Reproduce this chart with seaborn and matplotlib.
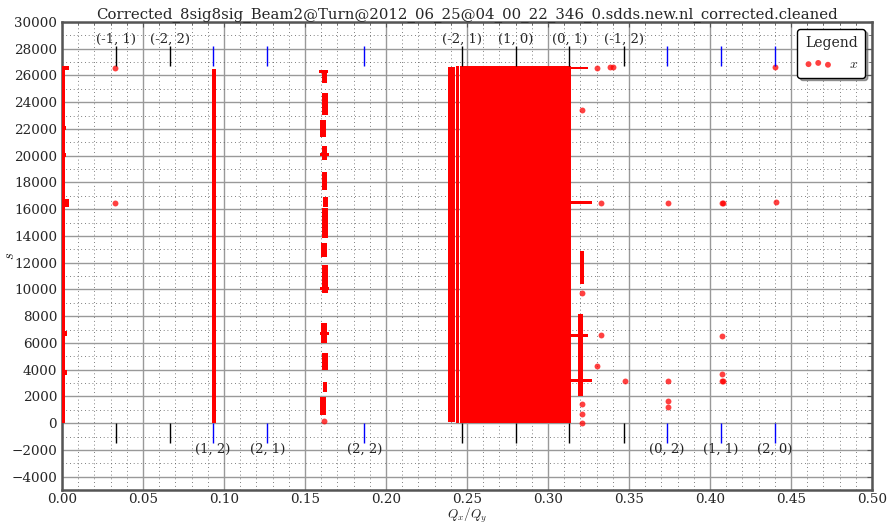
import matplotlib
matplotlib.use("Agg")
import matplotlib.pyplot as plt
from matplotlib.ticker import MultipleLocator, FormatStrFormatter
import numpy as np
import pandas as pd
import seaborn as sns

# ── Data ───────────────────────────────────────────────────────────────────
TITLE = "Corrected_8sig8sig_Beam2@Turn@2012_06_25@04_00_22_346_0.sdds.new.nl_corrected.cleaned"

band_q_lo = [0.0000, 0.0000, 0.0000, 0.0000, 0.0000, 0.0000, 0.0000,
             0.0925,
             0.1585, 0.1605, 0.1605, 0.1595, 0.1590, 0.1605, 0.1605, 0.1610,
             0.1605, 0.1600, 0.1605, 0.1590, 0.1600, 0.1595, 0.1605, 0.1610,
             0.1595,
             0.2382, 0.2430, 0.2456, 0.2494,
             0.3140, 0.3140, 0.3140, 0.3140, 0.3185, 0.3195]
band_q_hi = [0.0020, 0.0045, 0.0025, 0.0025, 0.0045, 0.0032, 0.0028,
             0.0952,
             0.1645, 0.1635, 0.1640, 0.1630, 0.1650, 0.1635, 0.1635, 0.1640,
             0.1640, 0.1635, 0.1640, 0.1650, 0.1635, 0.1650, 0.1640, 0.1635,
             0.1630,
             0.2425, 0.2450, 0.2494, 0.3140,
             0.3250, 0.3270, 0.3250, 0.3270, 0.3215, 0.3220]
band_s_lo = [0, 26400, 21900, 19900, 16200, 6500, 3600,
             0,
             26150, 25400, 23050, 21400, 19950, 19650, 17450, 16150,
             13850, 12400, 9700, 9950, 6000, 6600, 3950, 2300,
             600,
             100, 0, 0, 0,
             26450, 16400, 6480, 3100, 2000, 10400]
band_s_hi = [26700, 26700, 22200, 20200, 16800, 6900, 3950,
             26500,
             26400, 26300, 24700, 22700, 20200, 20700, 18800, 16900,
             16100, 13500, 11850, 10200, 7500, 6800, 5250, 3100,
             1950,
             26600, 26700, 26700, 26700,
             26650, 16650, 6700, 3330, 8200, 12900]

# isolated particles
point_q = [0.0330, 0.0330, 0.1620,
           0.3208, 0.3208, 0.3208, 0.3208, 0.3208,
           0.3300, 0.3383, 0.3403, 0.3330,
           0.3330, 0.3300, 0.3475,
           0.3743, 0.3743, 0.3743, 0.3743,
           0.4072, 0.4080, 0.4072, 0.4072, 0.4072, 0.4080,
           0.4401, 0.4407]
point_s = [26550, 16470, 200,
           23430, 9700, 1400, 700, 0,
           26550, 26610, 26610, 16490,
           6580, 4290, 3170,
           16490, 3170, 1650, 1220,
           16490, 16450, 6530, 3670, 3170, 3130,
           26600, 16530]

# resonance lines (m, n)
res_label = ["(-1, 1)", "(-2, 2)", "(-2, 1)", "(1, 0)", "(0, 1)", "(-1, 2)",
             "(1, 2)", "(2, 1)", "(2, 2)", "(0, 2)", "(1, 1)", "(2, 0)"]
res_q = [0.0333, 0.0667, 0.2467, 0.2800, 0.3133, 0.3467,
         0.0933, 0.1267, 0.1867, 0.3733, 0.4067, 0.4400]
res_kind = ["diff"] * 6 + ["sum"] * 6

# ── Style ──────────────────────────────────────────────────────────────────
sns.set_style("white")
plt.rcParams["font.family"] = ["DejaVu Serif"]
plt.rcParams["mathtext.fontset"] = "cm"

fig = plt.figure(figsize=(8.92, 5.23), dpi=100)
ax = fig.add_axes([0.0695, 0.063, 0.908, 0.895])

# ── Marks ──────────────────────────────────────────────────────────────────
bands = pd.DataFrame({"q_lo": band_q_lo, "q_hi": band_q_hi,
                      "s_lo": band_s_lo, "s_hi": band_s_hi})
ax.bar(bands.q_lo, bands.s_hi - bands.s_lo, width=bands.q_hi - bands.q_lo,
       bottom=bands.s_lo, align="edge", color="red", linewidth=0, zorder=3)

pts = pd.DataFrame({"q": point_q, "s": point_s})
sns.scatterplot(data=pts, x="q", y="s", ax=ax, color="red", s=18,
                alpha=0.75, linewidth=0, label="$x$", zorder=4)

res = pd.DataFrame({"q": res_q, "label": res_label, "kind": res_kind})
line_col = {"diff": "black", "sum": "blue"}
for _, r in res.iterrows():
    c = line_col[r.kind]
    ax.vlines(r.q, 26700, 28200, color=c, lw=1.0, zorder=5)
    ax.vlines(r.q, -1500, 0, color=c, lw=1.0, zorder=5)
    if r.kind == "diff":
        ax.text(r.q, 28700, r.label, ha="center", va="center", fontsize=9.5)
    else:
        ax.text(r.q, -1950, r.label, ha="center", va="center", fontsize=9.5)

# ── Axes ───────────────────────────────────────────────────────────────────
ax.set_xlim(0, 0.5)
ax.set_ylim(-5000, 30000)
ax.xaxis.set_major_locator(MultipleLocator(0.05))
ax.xaxis.set_minor_locator(MultipleLocator(0.01))
ax.xaxis.set_major_formatter(FormatStrFormatter("%.2f"))
ax.yaxis.set_major_locator(MultipleLocator(2000))
ax.yaxis.set_minor_locator(MultipleLocator(1000))
ax.tick_params(which="both", direction="in", top=True, right=True,
               labelsize=9.7, color="#555555")
ax.tick_params(axis="x", pad=2)
ax.grid(which="major", color="#999999", lw=1.0, ls="-", zorder=0)
ax.grid(which="minor", color="#555555", lw=0.6, ls=(0, (1, 3.5)), zorder=0)
ax.set_axisbelow(True)
for sp in ax.spines.values():
    sp.set_color("#555555")
    sp.set_linewidth(1.8)

ax.set_title(TITLE, fontsize=10.7, pad=3)
ax.set_xlabel("$Q_x/Q_y$", fontsize=9.5)
ax.xaxis.set_label_coords(0.5, -0.034)
ax.set_ylabel("$s$", fontsize=10.5)
ax.yaxis.set_label_coords(-0.056, 0.5)

leg = ax.legend(title="Legend", loc="upper right", fancybox=True, shadow=True,
                scatterpoints=3, fontsize=10, title_fontsize=10,
                borderpad=0.5, handletextpad=1.2)
leg.get_frame().set_edgecolor("black")
leg.get_frame().set_linewidth(1.0)

fig.savefig("out.png", dpi=100)
